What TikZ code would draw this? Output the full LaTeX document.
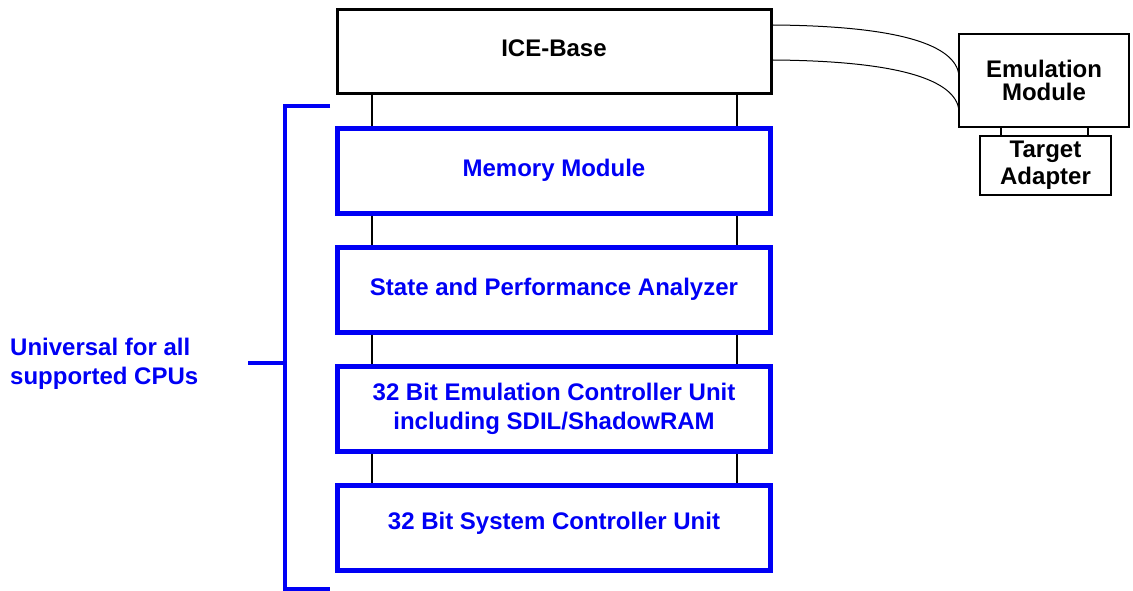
\documentclass[tikz,border=0pt]{standalone}
\usepackage{fontspec}
\setmainfont{Liberation Sans}
\definecolor{ublue}{RGB}{0,0,245}
\begin{document}
\begin{tikzpicture}[x=1pt,y=-1pt,
  every node/.style={font=\fontsize{24}{29}\selectfont\bfseries, align=center},
  base/.style={draw=black, line width=3pt, minimum width=434pt, minimum height=84pt, inner sep=0pt},
  unit/.style={draw=ublue, text=ublue, line width=4.5pt, minimum width=433pt, minimum height=85pt, inner sep=0pt},
  small/.style={draw=black, line width=2pt, inner sep=0pt},
  link/.style={draw=black, line width=2pt},
  cable/.style={draw=black, line width=1pt},
  brk/.style={draw=ublue, line width=4.5pt}]
\useasboundingbox (0,0) rectangle (1133,591);
\node[base] (ice) at (554,52) {\raisebox{8pt}{ICE-Base}};
\node[unit] (mem) at (554,171) {\raisebox{6pt}{Memory Module}};
\node[unit] (spa) at (554,290) {\raisebox{6pt}{State and Performance Analyzer}};
\node[unit] (ecu) at (554,409) {\raisebox{6pt}{\begin{tabular}{@{}c@{}}32 Bit Emulation Controller Unit\\including SDIL/ShadowRAM\end{tabular}}};
\node[unit] (scu) at (554,528) {\raisebox{15pt}{32 Bit System Controller Unit}};
\node[small, minimum width=170pt, minimum height=93pt, font=\fontsize{24}{23.5}\selectfont\bfseries] (emu) at (1044,80.5) {Emulation\\Module};
\node[small, minimum width=131pt, minimum height=59pt, font=\fontsize{24}{27}\selectfont\bfseries] (ta) at (1045.5,165.5) {\raisebox{-3pt}{\begin{tabular}{@{}c@{}}Target\\Adapter\end{tabular}}};
\node[anchor=west, align=left, text=ublue, inner sep=0pt] (lbl) at (10,364) {Universal for all\\supported CPUs};
% vertical links
\foreach \a/\b in {ice/mem, mem/spa, spa/ecu, ecu/scu}{
  \draw[link] ([xshift=-182.5pt]\a.south) -- ([xshift=-182.5pt]\b.north);
  \draw[link] ([xshift=182.5pt]\a.south) -- ([xshift=182.5pt]\b.north);
}
\draw[link] ([xshift=-43pt]emu.south) -- ([xshift=-44.5pt]ta.north);
\draw[link] ([xshift=44pt]emu.south) -- ([xshift=42.5pt]ta.north);
% cables
\coordinate (c1s) at (773,25);
\coordinate (c2s) at (773,60);
\coordinate (c1e) at (959,75);
\coordinate (c2e) at (959,110);
\draw[cable] (c1s) .. controls (900,26) and (955,45) .. (c1e);
\draw[cable] (c2s) .. controls (900,61) and (955,80) .. (c2e);
% bracket
\coordinate (bt) at (330,106);
\coordinate (btc) at (285,106);
\coordinate (bb) at (330,589);
\coordinate (bbc) at (285,589);
\coordinate (bm) at (285,363);
\coordinate (bl) at (248,363);
\draw[brk] (bt) -- (btc) -- (bbc) -- (bb);
\draw[brk] (bl) -- (bm);
\end{tikzpicture}
\end{document}
